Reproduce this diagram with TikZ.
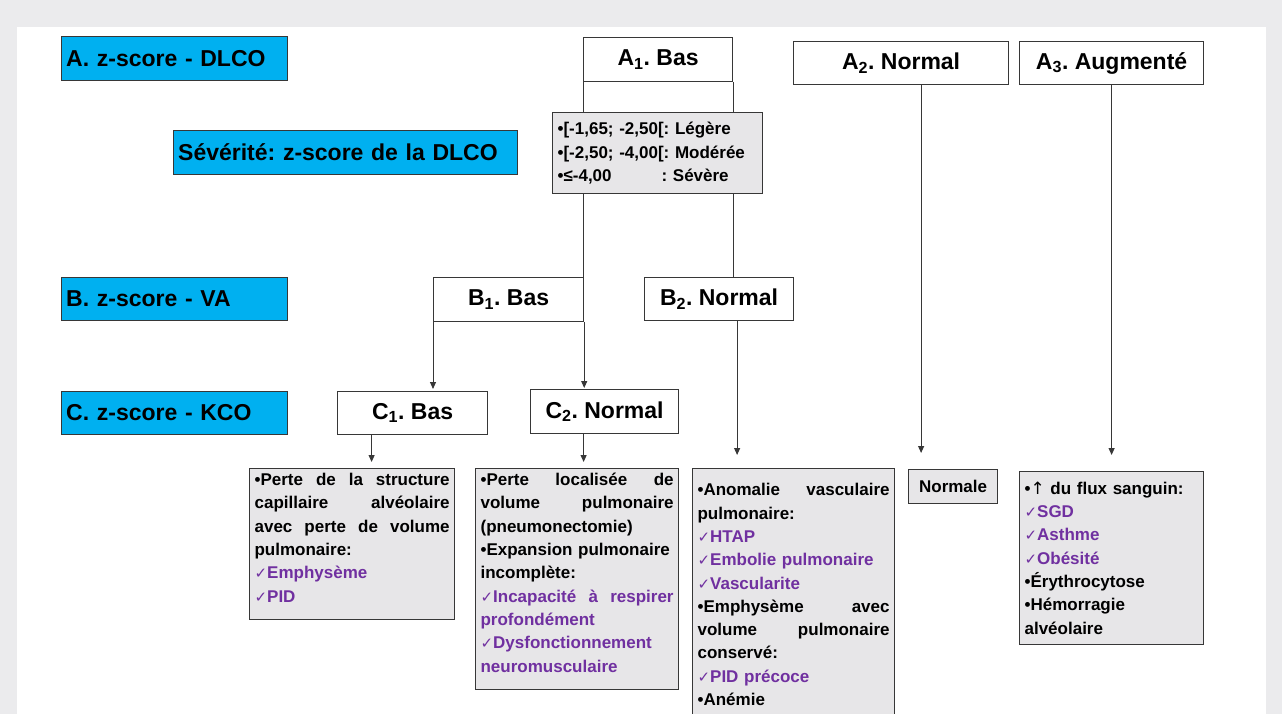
\documentclass[tikz,border=0pt]{standalone}
\usepackage{fontspec}
\setmainfont{Liberation Sans}
\newfontfamily\dejavu{DejaVu Sans}
\usepackage{xcolor}
\usepackage{tikz}
\usetikzlibrary{arrows.meta, positioning}
\definecolor{zBlue}{RGB}{0,176,240}
\definecolor{zGray}{RGB}{231,230,232}
\definecolor{zBack}{RGB}{235,235,237}
\definecolor{zPurple}{RGB}{112,48,160}
\definecolor{zLine}{RGB}{55,55,55}
\newcommand{\chkmark}{{\dejavu\mdseries\fontsize{15}{15}\selectfont ✓}}
\newcommand{\uparr}{{\dejavu\mdseries ↑}}
\newcommand{\chkitem}[1]{\textcolor{zPurple}{\chkmark#1}}
\frenchspacing
\hyphenpenalty=10000

\begin{document}
\begin{tikzpicture}[x=1pt, y=-1pt,
    lvl/.style={draw=zLine, fill=zBlue, anchor=north west, inner xsep=5pt, inner ysep=0pt,
                text width=#1pt, align=left, font=\bfseries\fontsize{23}{26}\selectfont},
    lvl/.default=216,
    res/.style={draw=zLine, line width=1.2pt, fill=white, anchor=north west, inner sep=0pt,
                font=\bfseries\fontsize{23}{26}\selectfont},
    info/.style={draw=zLine, line width=1.2pt, fill=zGray, anchor=north west, inner xsep=5pt,
                 inner ysep=4pt, align=left, font=\bfseries\fontsize{17}{23.3}\selectfont},
    link/.style={draw=zLine, line width=1pt},
    arr/.style={link, -{Triangle[length=7pt, width=6pt]}}
  ]
  \clip (0,0) rectangle (1282,714);
  \fill[zBack] (0,0) rectangle (1282,714);
  \fill[white] (17,27) rectangle (1266,714);

  % row labels
  \node[lvl, minimum width=226pt, minimum height=44pt] (la) at (61,36) {A. z-score - DLCO};
  \node[lvl=334, minimum width=344pt, minimum height=44pt] (ls) at (173,130) {Sévérité: z-score de la DLCO};
  \node[lvl, minimum width=226pt, minimum height=43pt] (lb) at (61,277) {B. z-score - VA};
  \node[lvl, minimum width=226pt, minimum height=43pt] (lc) at (61,391) {C. z-score - KCO};

  % results
  \node[res, minimum width=149pt, minimum height=44pt] (a1) at (583,37) {A\textsubscript{1}. Bas};
  \node[res, minimum width=215pt, minimum height=43pt] (a2) at (793,41) {A\textsubscript{2}. Normal};
  \node[res, minimum width=184pt, minimum height=43pt] (a3) at (1019,41) {A\textsubscript{3}. Augmenté};
  \node[res, minimum width=150pt, minimum height=44pt] (b1) at (433,277) {B\textsubscript{1}. Bas};
  \node[res, minimum width=149pt, minimum height=43pt] (b2) at (644,277) {B\textsubscript{2}. Normal};
  \node[res, minimum width=150pt, minimum height=43pt] (c1) at (337,391) {C\textsubscript{1}. Bas};
  \node[res, minimum width=148pt, minimum height=44pt] (c2) at (530,389) {C\textsubscript{2}. Normal};

  % interpretations (justified lines spread with \hfill)
  \node[info, text width=195pt, minimum width=205pt, text height=13pt, text depth=130pt] (o1) at (249,468)
    {•Perte \hfill de \hfill la \hfill structure\\
     capillaire \hfill alvéolaire\\
     avec \hfill perte \hfill de \hfill volume\\
     pulmonaire:\\
     \chkitem{Emphysème}\\
     \chkitem{PID}};
  \node[info, text width=193pt, minimum width=203pt, text height=13pt, text depth=200pt] (o2) at (475,468)
    {•Perte \hfill localisée \hfill de\\
     volume \hfill pulmonaire\\
     (pneumonectomie)\\
     •Expansion pulmonaire\\
     incomplète:\\
     \textcolor{zPurple}{\chkmark Incapacité \hfill à \hfill respirer}\\
     \textcolor{zPurple}{profondément}\\
     \chkitem{Dysfonctionnement}\\
     \textcolor{zPurple}{neuromusculaire}};
  \node[info, minimum width=202pt, minimum height=252pt, text width=192pt] (o3) at (692,468)
    {•Anomalie \hfill vasculaire\\
     pulmonaire:\\
     \chkitem{HTAP}\\
     \chkitem{Embolie pulmonaire}\\
     \chkitem{Vascularite}\\
     •Emphysème \hfill avec\\
     volume \hfill pulmonaire\\
     conservé:\\
     \chkitem{PID précoce}\\
     •Anémie};
  \node[info, minimum width=89pt, minimum height=34pt] (nrm) at (908,469) {Normale};
  \node[info, minimum width=184pt, minimum height=173pt, text width=174pt] (o4) at (1019,471)
    {•\uparr{} du flux sanguin:\\
     \chkitem{SGD}\\
     \chkitem{Asthme}\\
     \chkitem{Obésité}\\
     •Érythrocytose\\
     •Hémorragie\\
     alvéolaire};

  % connectors
  \draw[link] (a1.south west) -- (a1.south west |- b1.north);
  \draw[link] (a1.south east) -- (a1.south east |- b2.north);
  \draw[arr, shorten >=2pt] (b1.south west) -- (b1.south west |- c1.north);
  \draw[arr, shorten >=1pt] (b1.south east) -- (b1.south east |- c2.north);
  \draw[arr, shorten >=13pt] ([xshift=18pt]b2.south) -- ([xshift=18pt]b2.south |- o3.north);
  \draw[arr, shorten >=6pt] ([xshift=-41pt]c1.south) -- ([xshift=-41pt]c1.south |- o1.north);
  \draw[arr, shorten >=6pt] ([xshift=-21pt]c2.south) -- ([xshift=-21pt]c2.south |- o2.north);
  \draw[arr, shorten >=16pt] ([xshift=20pt]a2.south) -- ([xshift=20pt]a2.south |- nrm.north);
  \draw[arr, shorten >=16pt] (a3.south) -- (a3.south |- o4.north);

  % severity grades, over the A1 lines
  \node[info, minimum width=210pt, minimum height=81pt, text width=200pt] (sev) at (552,112)
    {•[-1,65; -2,50[: Légère\\
     •[-2,50; -4,00[: Modérée\\
     \makebox[104pt][l]{•≤-4,00}: Sévère};
\end{tikzpicture}
\end{document}
